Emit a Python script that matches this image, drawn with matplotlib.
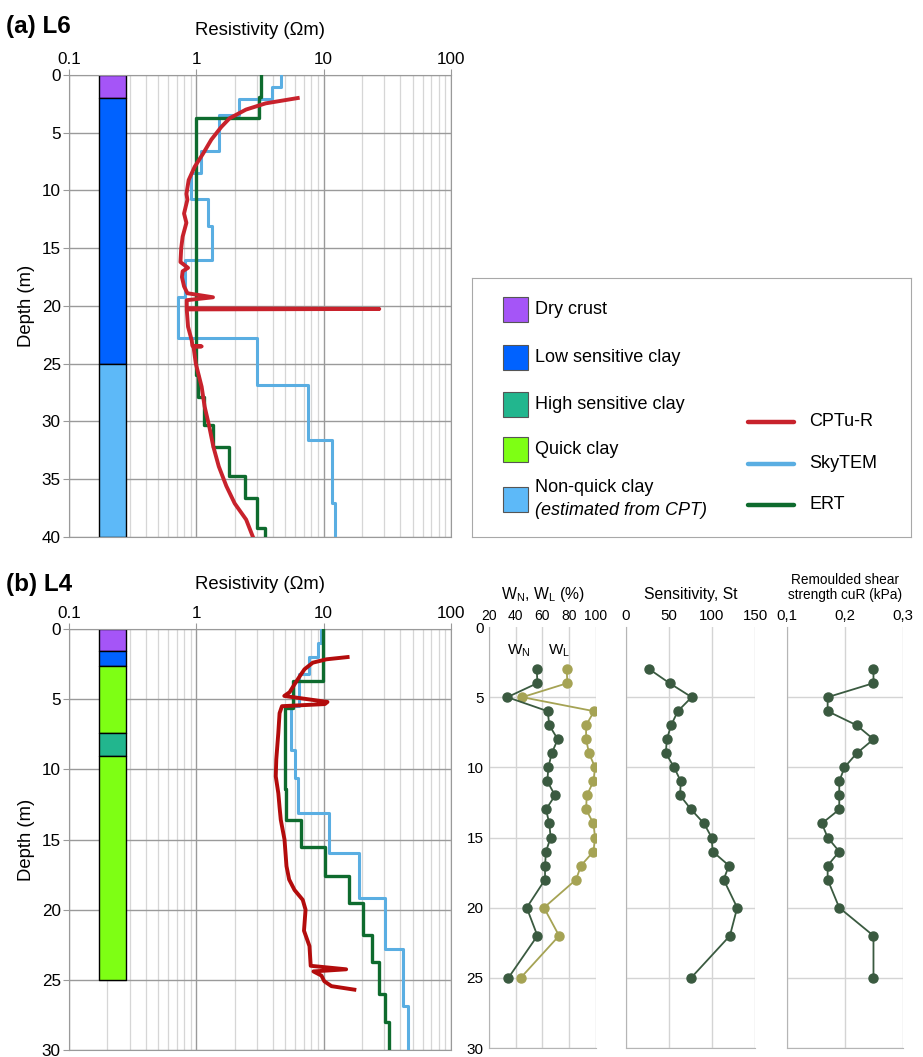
import numpy as np
import matplotlib
matplotlib.use('Agg')
import matplotlib.pyplot as plt
from matplotlib.patches import Rectangle
from matplotlib.ticker import NullFormatter

plt.rcParams['font.family'] = ['Liberation Sans', 'DejaVu Sans']

# ---------------- data ----------------
layer_colors = {'Dry crust': '#A555F7',
                'Low sensitive clay': '#0062FF',
                'High sensitive clay': '#22B68E',
                'Quick clay': '#7EFF14',
                'Non-quick clay': '#5DB9F8'}

# L6 soil column
l6_top = [0, 2, 25]
l6_bot = [2, 25, 40]
l6_type = ['Dry crust', 'Low sensitive clay', 'Non-quick clay']

# L4 soil column
l4_top = [0, 1.57, 2.64, 7.39, 9.05]
l4_bot = [1.57, 2.64, 7.39, 9.05, 25]
l4_type = ['Dry crust', 'Low sensitive clay', 'Quick clay', 'High sensitive clay', 'Quick clay']

# L6 SkyTEM (layer boundaries / resistivity)
l6_sky_bounds = [0, 1.07, 2.1, 3.47, 6.6, 8.5, 10.7, 13.1, 16.0, 19.2, 22.75, 26.85, 31.6, 37.05, 40]
l6_sky_res = [4.6, 3.94, 2.16, 1.5, 1.09, 0.91, 1.23, 1.33, 0.82, 0.72, 3.0, 7.5, 11.6, 12.3]

# L6 ERT
l6_ert_bounds = [0, 1.9, 3.76, 26.0, 27.9, 30.3, 32.2, 34.7, 36.6, 39.2, 40]
l6_ert_res = [3.23, 3.1, 1.0, 1.03, 1.14, 1.35, 1.80, 2.39, 2.99, 3.47]

# L6 CPTu-R
l6_cpt_depth = [2.0, 2.46, 3.0, 3.76, 4.5, 5.6, 6.8, 7.95, 9.1, 10.3, 10.8, 12.0, 12.8, 14.0, 15.0,
                16.2, 16.7, 17.0, 17.5, 18.3, 18.9, 19.25, 19.5, 20.2, 20.26, 20.3, 21.8, 23.0,
                23.45, 23.5, 23.55, 25.0, 27.0, 28.7, 30.4, 32.2, 33.9, 35.6, 37.1, 38.5, 40.0]
l6_cpt_res = [6.25, 3.5, 2.45, 1.82, 1.57, 1.31, 1.13, 0.97, 0.87, 0.835, 0.85, 0.80, 0.835, 0.78, 0.76,
              0.75, 0.86, 0.78, 0.77, 0.80, 0.85, 1.35, 0.84, 0.84, 27.3, 0.84, 0.86, 0.92,
              0.93, 1.10, 0.95, 0.99, 1.10, 1.16, 1.26, 1.36, 1.50, 1.72, 2.00, 2.46, 2.78]

# L4 SkyTEM
l4_sky_bounds = [0, 0.97, 1.97, 3.23, 5.5, 8.6, 10.6, 13.1, 15.95, 19.15, 22.8, 26.9, 30]
l4_sky_res = [9.5, 9.0, 7.6, 6.4, 5.55, 5.9, 6.3, 11.1, 19.0, 30.2, 41.6, 46.3]

# L4 ERT
l4_ert_bounds = [0, 3.7, 5.65, 11.4, 13.6, 15.5, 17.6, 19.5, 21.8, 23.7, 26.0, 28.0, 30]
l4_ert_res = [9.8, 5.7, 4.92, 5.1, 6.64, 10.3, 15.7, 20.2, 23.9, 27.3, 30.4, 32.3]

# L4 CPTu-R
l4_cpt_depth = [2.0, 2.16, 2.4, 2.87, 3.35, 3.94, 4.5, 4.77, 5.2, 5.35, 5.5, 6.0, 7.4, 9.3, 10.5,
                11.7, 12.7, 13.6, 15.0, 16.9, 17.85, 18.6, 19.3, 20.0, 21.5, 22.6, 24.0, 24.25,
                24.4, 24.7, 25.1, 25.45, 25.7]
l4_cpt_res = [15.4, 10.5, 8.2, 7.06, 6.5, 5.9, 5.4, 4.9, 10.7, 10.2, 4.7, 4.5, 4.4, 4.24, 4.2,
              4.4, 4.5, 4.6, 4.92, 5.1, 5.35, 5.9, 6.84, 7.2, 7.0, 7.73, 7.9, 15.0,
              8.3, 9.6, 10.1, 11.5, 17.4]

# laboratory data, L4
lab_depth = [3, 4, 5, 6, 7, 8, 9, 10, 11, 12, 13, 14, 15, 16, 17, 18, 20, 22, 25]
w_n = [55.7, 56.2, 33.7, 63.9, 65.1, 71.4, 66.9, 64.4, 63.6, 69.4, 62.6, 65.1, 66.1, 62.6, 61.9, 61.9, 48.2, 56.2, 34.5]
w_l = [78.1, 78.6, 44.9, 98.6, 92.6, 92.6, 94.8, 99.3, 98.1, 93.1, 92.6, 98.1, 99.3, 98.1, 88.8, 85.1, 61.1, 72.4, 43.7]
sensitivity = [27, 50.6, 76.4, 60.2, 52.5, 47.5, 46.3, 56, 63.7, 62.9, 75.7, 90.7, 99.6, 100.8, 119.7, 113.5, 129.3, 120.8, 75.7]
cur = [0.249, 0.249, 0.170, 0.170, 0.220, 0.249, 0.220, 0.199, 0.190, 0.190, 0.190, 0.160, 0.170, 0.190, 0.170, 0.170, 0.190, 0.249, 0.249]

res_ticks = [0.1, 1, 10, 100]
res_ticklabels = ['0.1', '1', '10', '100']

c_cpt = '#C8222C'
c_cpt_b = '#B30C0C'
c_sky = '#5AAEE2'
c_ert = '#0E6B2E'
c_lab = '#3A5A40'
c_wl = '#A5A354'


def step_xy(bounds, vals):
    ys = np.repeat(bounds, 2)[1:-1]
    xs = np.repeat(vals, 2)
    return xs, ys


def res_axes(ax, dmax):
    ax.set_xscale('log')
    ax.set_xlim(0.1, 100)
    ax.set_ylim(dmax, 0)
    ax.xaxis.tick_top()
    ax.xaxis.set_label_position('top')
    ax.set_xticks(res_ticks)
    ax.set_xticklabels(res_ticklabels)
    ax.xaxis.set_minor_formatter(NullFormatter())
    ax.set_yticks(np.arange(0, dmax + 1, 5))
    ax.set_axisbelow(True)
    ax.grid(which='major', color='#9a9a9a', lw=1.0)
    ax.grid(which='minor', axis='x', color='#d6d6d6', lw=0.9)
    for s in ax.spines.values():
        s.set_color('#9a9a9a')
    ax.tick_params(which='major', length=4, color='#9a9a9a', labelsize=12.3, pad=2)
    ax.tick_params(which='minor', length=0)
    ax.set_xlabel('Resistivity (\u03a9m)', fontsize=13.3, labelpad=12)
    ax.set_ylabel('Depth (m)', fontsize=13.3, labelpad=5)


def soil_column(ax, tops, bots, types):
    for t, b, k in zip(tops, bots, types):
        ax.fill_betweenx([t, b], 0.172, 0.28, facecolor=layer_colors[k],
                         edgecolor='black', lw=1.0, zorder=2)


fig = plt.figure(figsize=(9.23, 10.57), dpi=100)

# ---------------- (a) L6 ----------------
ax1 = fig.add_axes([0.0748, 0.4920, 0.4139, 0.4371])
res_axes(ax1, 40)
soil_column(ax1, l6_top, l6_bot, l6_type)
x, y = step_xy(l6_sky_bounds, l6_sky_res)
ax1.plot(x, y, color=c_sky, lw=2.2, zorder=3)
x, y = step_xy(l6_ert_bounds, l6_ert_res)
ax1.plot(x, y, color=c_ert, lw=2.4, zorder=4)
ax1.plot(l6_cpt_res, l6_cpt_depth, color=c_cpt, lw=2.8, zorder=5)
fig.text(0.007, 1 - 26 / 1057, '(a) L6', fontsize=17.5, fontweight='bold', va='center')

# ---------------- (b) L4 ----------------
ax2 = fig.add_axes([0.0748, 0.00662, 0.4139, 0.3983])
res_axes(ax2, 30)
soil_column(ax2, l4_top, l4_bot, l4_type)
x, y = step_xy(l4_sky_bounds, l4_sky_res)
ax2.plot(x, y, color=c_sky, lw=2.2, zorder=3)
x, y = step_xy(l4_ert_bounds, l4_ert_res)
ax2.plot(x, y, color=c_ert, lw=2.4, zorder=4)
ax2.plot(l4_cpt_res, l4_cpt_depth, color=c_cpt_b, lw=2.8, zorder=5)
fig.text(0.007, 1 - 584 / 1057, '(b) L4', fontsize=17.5, fontweight='bold', va='center')


# ---------------- lab panels ----------------
def lab_axes(ax, xlim, xticks, xticklabels, title, title_size, tick_size, show_y):
    ax.set_xlim(*xlim)
    ax.set_ylim(30, 0)
    ax.xaxis.tick_top()
    ax.xaxis.set_label_position('top')
    ax.set_xticks(xticks)
    ax.set_xticklabels(xticklabels)
    ax.set_yticks(np.arange(0, 31, 5))
    ax.set_axisbelow(True)
    ax.grid(color='#d4d4d4', lw=1.0)
    ax.get_ygridlines()[0].set_visible(False)
    ax.spines['top'].set_visible(False)
    ax.spines['right'].set_visible(False)
    ax.spines['left'].set_color('#b5b5b5')
    ax.spines['bottom'].set_color('#b5b5b5')
    ax.tick_params(length=0, labelsize=tick_size, pad=3)
    ax.tick_params(axis='y', labelsize=11, pad=4)
    if not show_y:
        ax.set_yticklabels([])
    ax.set_xlabel(title, fontsize=title_size, labelpad=7, linespacing=1.1)


ax3 = fig.add_axes([0.5298, 0.0085, 0.1159, 0.3983])
lab_axes(ax3, (20, 100), [20, 40, 60, 80, 100], ['20', '40', '60', '80', '100'],
         'W$_\\mathregular{N}$, W$_\\mathregular{L}$ (%)', 11.3, 10, True)
ax3.plot(w_l, lab_depth, '-o', color=c_wl, lw=1.3, ms=6.5, zorder=3)
ax3.plot(w_n, lab_depth, '-o', color=c_lab, lw=1.3, ms=6.5, zorder=4)
ax3.text(42, 1.65, 'W$_\\mathregular{N}$', fontsize=11, ha='center', va='center')
ax3.text(72.4, 1.65, 'W$_\\mathregular{L}$', fontsize=11, ha='center', va='center')

ax4 = fig.add_axes([0.6782, 0.0085, 0.1398, 0.3983])
lab_axes(ax4, (0, 150), [0, 50, 100, 150], ['0', '50', '100', '150'],
         'Sensitivity, St', 11.3, 10.8, False)
ax4.plot(sensitivity, lab_depth, '-o', color=c_lab, lw=1.3, ms=6.5, zorder=3)

ax5 = fig.add_axes([0.8527, 0.0085, 0.1257, 0.3983])
lab_axes(ax5, (0.1, 0.3), [0.1, 0.2, 0.3], ['0,1', '0,2', '0,3'],
         'Remoulded shear\nstrength cuR (kPa)', 9.8, 10.8, False)
ax5.plot(cur, lab_depth, '-o', color=c_lab, lw=1.3, ms=6.5, zorder=3)

# ---------------- legend box ----------------
axl = fig.add_axes([0.5114, 0.4920, 0.4756, 0.2450])
axl.set_xlim(0, 439)
axl.set_ylim(259, 0)
axl.set_xticks([])
axl.set_yticks([])
for s in axl.spines.values():
    s.set_color('#a8a8a8')

leg_layers = ['Dry crust', 'Low sensitive clay', 'High sensitive clay', 'Quick clay', 'Non-quick clay']
leg_rows = [32, 80, 127, 172, 222]
for name, yc in zip(leg_layers, leg_rows):
    axl.add_patch(Rectangle((31, yc - 12.5), 25, 25, facecolor=layer_colors[name],
                            edgecolor='#555555', lw=0.8))
for name, yc in zip(leg_layers[:4], leg_rows[:4]):
    axl.text(63, yc, name, fontsize=13, va='center')
axl.text(63, 210, 'Non-quick clay', fontsize=13, va='center')
axl.text(63, 233, '(estimated from CPT)', fontsize=13, va='center', style='italic')

leg_lines = [('CPTu-R', c_cpt), ('SkyTEM', c_sky), ('ERT', c_ert)]
for (lab, col), yc in zip(leg_lines, [144, 186, 227]):
    axl.plot([276, 322], [yc, yc], color=col, lw=3.2, solid_capstyle='round')
    axl.text(337, yc, lab, fontsize=13, va='center')

fig.savefig('out.png', dpi=100)
